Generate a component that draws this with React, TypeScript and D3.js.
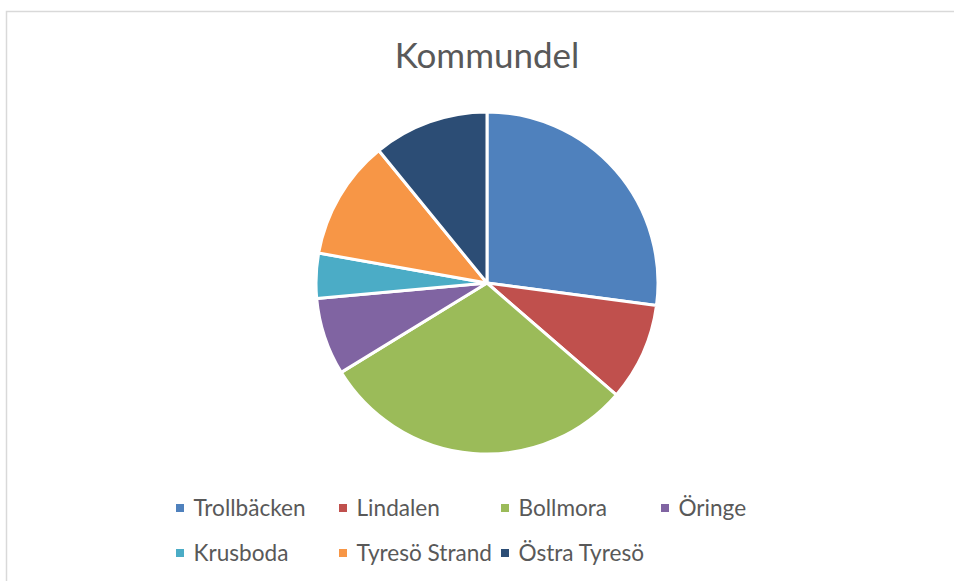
import React from "react";
import * as d3 from "d3";

const categories = ["Trollbäcken", "Lindalen", "Bollmora", "Öringe", "Krusboda", "Tyresö Strand", "Östra Tyresö"];
const values = [27.1, 9.25, 29.9, 7.3, 4.25, 11.3, 10.9];
const colors = ["#4F81BD", "#C0504D", "#9BBB59", "#8064A2", "#4BACC6", "#F79646", "#2C4D75"];
const title = "Kommundel";

const W = 954;
const H = 581;
const cx = 487;
const cy = 283;
const R = 171;

const legendCols = [176, 339, 501, 661];
const legendRows = [508, 553];

export default function App() {
  const pie = d3.pie<number>().sort(null).value((d) => d)(values);
  const arc = d3.arc<d3.PieArcDatum<number>>().innerRadius(0).outerRadius(R);
  const font = "Lato, 'Open Sans', sans-serif";
  return (
    <svg
      width={W}
      height={H}
      style={{ position: "absolute", left: 0, top: 0, background: "#fff" }}
    >
      <rect x={0} y={0} width={W} height={H} fill="#fff" />
      <rect x={6.5} y={11.5} width={W + 20} height={H + 20} fill="none" stroke="#d9d9d9" strokeWidth={1.5} />
      <text
        x={cx}
        y={67.5}
        textAnchor="middle"
        fontFamily={font}
        fontSize={35}
        fill="#595959"
      >
        {title}
      </text>
      <g transform={`translate(${cx},${cy})`}>
        {pie.map((d, i) => (
          <path key={categories[i]} d={arc(d) || ""} fill={colors[i]} stroke="#fff" strokeWidth={3} strokeLinejoin="round" />
        ))}
      </g>
      <g>
        {categories.map((c, i) => {
          const col = i < 4 ? i : i - 4;
          const row = i < 4 ? 0 : 1;
          const x = legendCols[col];
          const y = legendRows[row];
          return (
            <g key={c}>
              <rect x={x} y={y - 4} width={8} height={8} fill={colors[i]} />
              <text x={x + 17.5} y={y + 7.5} fontFamily={font} fontSize={22.6} fill="#595959">
                {c}
              </text>
            </g>
          );
        })}
      </g>
    </svg>
  );
}
